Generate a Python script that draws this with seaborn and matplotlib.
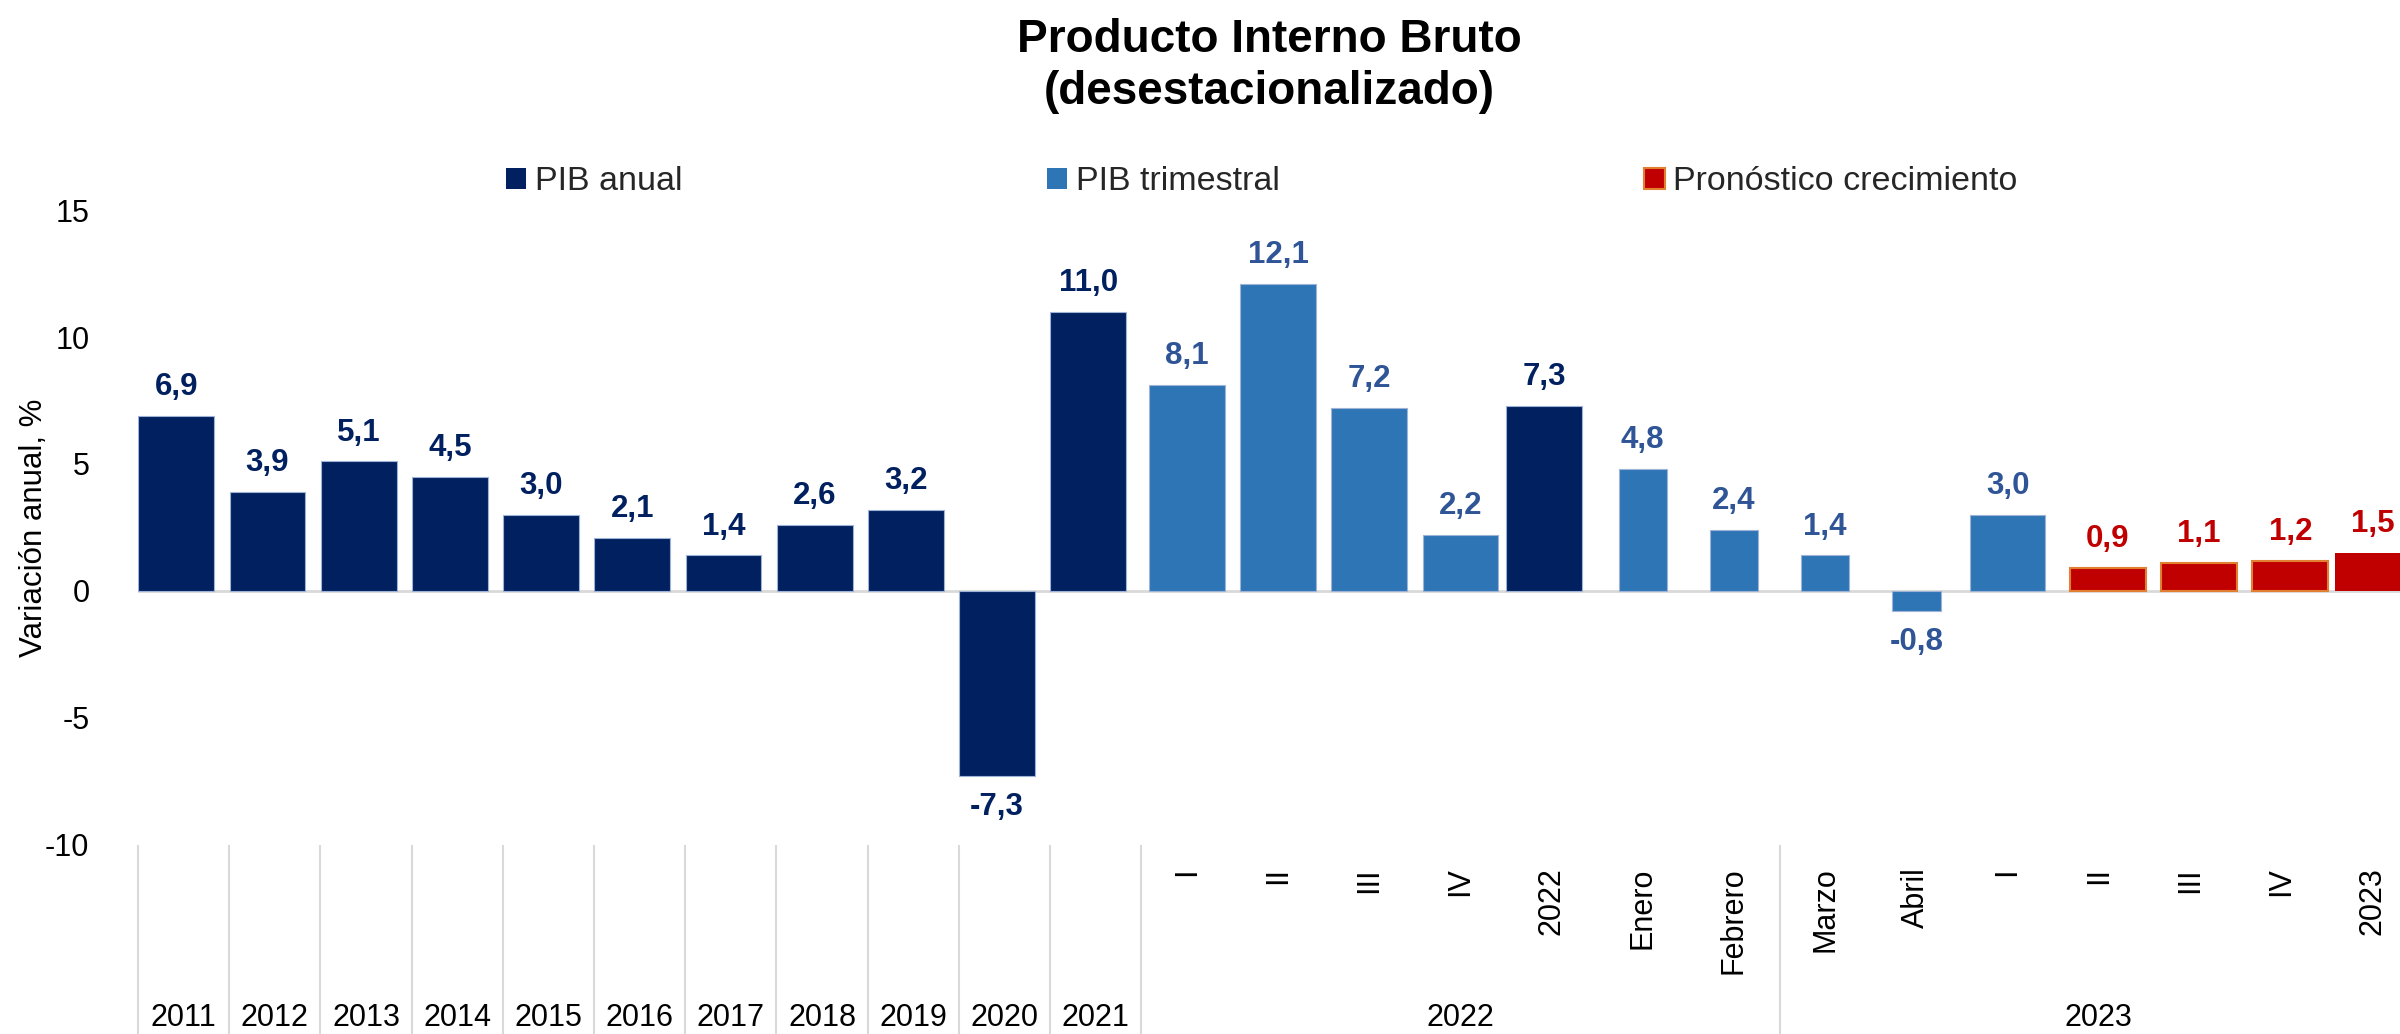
import pandas as pd
import matplotlib.pyplot as plt
import matplotlib.colors as mcolors
import matplotlib.transforms as mtransforms
import seaborn as sns

# datos (variación anual, %)
periodos = ['2011', '2012', '2013', '2014', '2015', '2016', '2017', '2018', '2019', '2020', '2021',
            'I', 'II', 'III', 'IV', '2022', 'Enero', 'Febrero', 'Marzo', 'Abril',
            'I', 'II', 'III', 'IV', '2023']
grupos = ['2011', '2012', '2013', '2014', '2015', '2016', '2017', '2018', '2019', '2020', '2021',
          '2022', '2022', '2022', '2022', '2022', '2022', '2022',
          '2023', '2023', '2023', '2023', '2023', '2023', '2023']
valores = [6.9, 3.9, 5.1, 4.5, 3.0, 2.1, 1.4, 2.6, 3.2, -7.3, 11.0,
           8.1, 12.1, 7.2, 2.2, 7.3, 4.8, 2.4, 1.4, -0.8,
           3.0, 0.9, 1.1, 1.2, 1.5]
series = ['PIB anual'] * 11 + ['PIB trimestral'] * 4 + ['PIB anual'] + \
         ['PIB trimestral'] * 5 + ['Pronóstico crecimiento'] * 4
meses = ['Enero', 'Febrero', 'Marzo', 'Abril']

colores = {'PIB anual': '#002060', 'PIB trimestral': '#2E75B6', 'Pronóstico crecimiento': '#C00000'}
colores_etiqueta = {'PIB anual': '#002060', 'PIB trimestral': '#2F5597', 'Pronóstico crecimiento': '#C00000'}
borde_pronostico = '#E08030'

df = pd.DataFrame({'periodo': periodos, 'grupo': grupos, 'valor': valores, 'serie': series})
df['clave'] = df['grupo'] + '|' + df['periodo']  # clave única para el eje categórico
es_mes = df['periodo'].isin(meses)
orden = list(df['clave'])

sns.set_theme(style='white')
plt.rcParams['font.family'] = ['Liberation Sans', 'DejaVu Sans']
plt.rcParams['axes.unicode_minus'] = False

fig = plt.figure(figsize=(24, 10.34), dpi=100)
ax = fig.add_axes([0.0575, 0.1828, 0.95, 0.6141])

sns.barplot(data=df[~es_mes], x='clave', y='valor', hue='serie', order=orden,
            palette=colores, dodge=False, width=0.83, saturation=1, ax=ax, zorder=2,
            edgecolor='#9FB3D6', linewidth=0.8)
leg = ax.get_legend()
handles = leg.legend_handles
labels = [t.get_text() for t in leg.get_texts()]
leg.remove()

# los meses van con barras más angostas
sns.barplot(data=df[es_mes], x='clave', y='valor', order=orden, color=colores['PIB trimestral'],
            width=0.53, saturation=1, ax=ax, zorder=2, edgecolor='#9FB3D6', linewidth=0.8,
            legend=False)
if ax.get_legend() is not None:
    ax.get_legend().remove()

rgb_serie = {s: mcolors.to_rgb(c) for s, c in colores.items()}


def serie_de(p):
    rgb = tuple(round(v, 3) for v in p.get_facecolor()[:3])
    for s, c in rgb_serie.items():
        if tuple(round(v, 3) for v in c) == rgb:
            return s
    return None


# pequeños desplazamientos entre series (como en el gráfico original) y etiquetas
for cont in ax.containers:
    for p in cont:
        h = p.get_height()
        if pd.isna(h) or p.get_width() == 0:
            continue
        s = serie_de(p)
        cx = p.get_x() + p.get_width() / 2
        if s == 'PIB anual':
            p.set_x(p.get_x() - 0.08)
        elif s == 'Pronóstico crecimiento':
            p.set_linewidth(0)
            if cx < 23.5:
                p.set_x(p.get_x() + 0.1)
                p.set_edgecolor(borde_pronostico)
                p.set_linewidth(1.5)
        cx = p.get_x() + p.get_width() / 2
        txt = f'{h:.1f}'.replace('.', ',')
        if h >= 0:
            ax.annotate(txt, (cx, h), xytext=(0, 10), textcoords='offset points', ha='center',
                        va='bottom', fontsize=22.5, fontweight='bold', color=colores_etiqueta[s])
        else:
            ax.annotate(txt, (cx, h), xytext=(0, -11.5), textcoords='offset points', ha='center',
                        va='top', fontsize=22.5, fontweight='bold', color=colores_etiqueta[s])

for h, l in zip(handles, labels):
    h.set_linewidth(0)
    if l == 'Pronóstico crecimiento':
        h.set_edgecolor(borde_pronostico)
        h.set_linewidth(1.5)

fig.legend(handles, labels, loc='center left', bbox_to_anchor=(506 / 2400, 1 - 182 / 1034),
           ncol=3, frameon=False, fontsize=24.5, handlelength=0.6, handleheight=0.6,
           handletextpad=0.26, columnspacing=10.7, borderpad=0, borderaxespad=0)

ax.axhline(0, color='#D9D9D9', lw=2, zorder=1)

ax.set_xlim(-0.5, 24.5)
ax.set_ylim(-10, 15)
ax.set_yticks([-10, -5, 0, 5, 10, 15])
ax.tick_params(axis='y', length=0, pad=35, labelsize=22, labelcolor='black')

# nivel interno del eje x (rotado)
etiquetas_x = ['' if i < 11 else p for i, p in enumerate(periodos)]
ax.set_xticks(range(len(periodos)))
ax.set_xticklabels(etiquetas_x, rotation=90, va='top', ha='center')
ax.tick_params(axis='x', length=0, pad=16, labelsize=22, labelcolor='black')

ax.set_xlabel('')
ax.set_ylabel('Variación anual, %', fontsize=22.5, color='black')
ax.yaxis.set_label_coords(-0.039, 0.5)

sns.despine(ax=ax, left=True, bottom=True)

# nivel externo del eje x (años / grupos)
trans = mtransforms.blended_transform_factory(ax.transData, ax.transAxes)
posiciones_grupo = {}
for i, g in enumerate(grupos):
    posiciones_grupo.setdefault(g, []).append(i)
for g, idx in posiciones_grupo.items():
    ax.text(sum(idx) / len(idx), -0.2724, g, transform=trans, ha='center', va='center',
            fontsize=22, color='black')

separadores = [-0.5 + k for k in range(12)] + [17.5, 24.5]
ax.vlines(separadores, -0.3, 0, transform=trans, colors='#D9D9D9', lw=1.5, clip_on=False)

fig.text(0.529, 0.936, 'Producto Interno Bruto\n(desestacionalizado)', ha='center', va='center',
         fontsize=33, fontweight='bold', linespacing=1.22, color='black')

fig.savefig('out.png', dpi=100)
